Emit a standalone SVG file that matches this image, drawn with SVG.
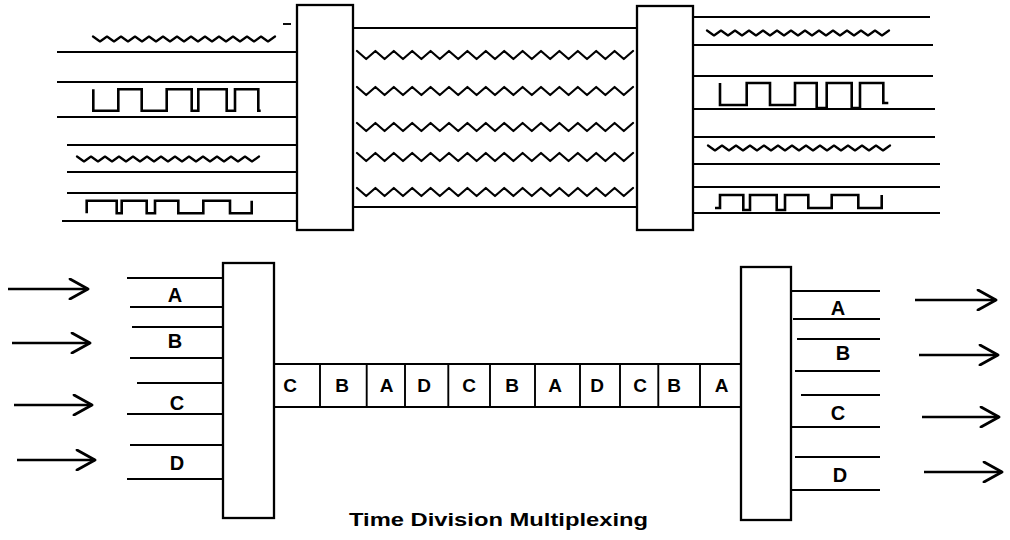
<svg xmlns="http://www.w3.org/2000/svg" width="1010" height="540" viewBox="0 0 1010 540">
<style>
.box{fill:#fff;stroke:#000;stroke-width:2.3}
.ln{stroke:#000;stroke-width:1.9;fill:none}
.wave{stroke:#000;stroke-width:2.2;fill:none;stroke-linejoin:round;stroke-linecap:round}
.sq{stroke:#000;stroke-width:2.6;fill:none;stroke-linejoin:miter}
.arr{stroke:#000;stroke-width:2.6;fill:none;marker-end:url(#chev)}
.lbl{font-family:"Liberation Sans",Arial,sans-serif;font-weight:bold;font-size:20px;text-anchor:middle;fill:#000}
.cell{font-family:"Liberation Sans",Arial,sans-serif;font-weight:bold;font-size:19px;text-anchor:middle;fill:#000}
.cap{font-family:"Liberation Sans",Arial,sans-serif;font-weight:bold;font-size:19px;fill:#000}
</style>
<defs>
<marker id="chev" viewBox="0 0 22 22" refX="20" refY="11" markerWidth="22" markerHeight="22" orient="auto" markerUnits="userSpaceOnUse">
<path d="M2,1 L20,11 L2,21" fill="none" stroke="#000" stroke-width="2.8" stroke-linecap="round" stroke-linejoin="round"/>
</marker>
</defs>
<rect width="1010" height="540" fill="#fff"/>

<!-- FDM top -->
<g id="fdm-inputs">
<line class="ln" x1="283" y1="24" x2="291" y2="24"/>
<line class="ln" x1="57" y1="52" x2="297" y2="52"/>
<line class="ln" x1="57" y1="82" x2="297" y2="82"/>
<line class="ln" x1="57" y1="117" x2="297" y2="117"/>
<line class="ln" x1="67" y1="145" x2="297" y2="145"/>
<line class="ln" x1="67" y1="172" x2="297" y2="172"/>
<line class="ln" x1="67" y1="193" x2="297" y2="193"/>
<line class="ln" x1="62" y1="221" x2="297" y2="221"/>
<path class="wave" d="M93,36.5 l7,5 7,-5 7,5 7,-5 7,5 7,-5 7,5 7,-5 7,5 7,-5 7,5 7,-5 7,5 7,-5 7,5 7,-5 7,5 7,-5 7,5 7,-5 7,5 7,-5 7,5 7,-5 7,5 7,-5"/>
<path class="sq" d="M93.3,89.3 V110.7 H118.3 V89.3 H141.7 V110.7 H166.7 V89.3 H191.7 V110.7 H198.3 V89.3 H226.7 V110.7 H235 V89.3 H258.3 V110.7 H260.7"/>
<path class="wave" d="M77,156.5 l7,5 7,-5 7,5 7,-5 7,5 7,-5 7,5 7,-5 7,5 7,-5 7,5 7,-5 7,5 7,-5 7,5 7,-5 7,5 7,-5 7,5 7,-5 7,5 7,-5 7,5 7,-5 7,5 7,-5"/>
<path class="sq" d="M86.7,213.3 V200.7 H116.7 V213.3 H121.7 V200.7 H146.7 V213.3 H155 V200.7 H178.3 V213.3 H203.3 V200.7 H230 V213.3 H251.7 V200.7"/>
</g>
<g id="fdm-mux">
<rect class="box" x="297" y="5" width="56" height="225"/>
</g>
<g id="fdm-channel">
<line class="ln" x1="353" y1="28" x2="637" y2="28"/>
<line class="ln" x1="353" y1="207" x2="637" y2="207"/>
<path class="wave" d="M357,51 l9.2,8 9.2,-8 9.2,8 9.2,-8 9.2,8 9.2,-8 9.2,8 9.2,-8 9.2,8 9.2,-8 9.2,8 9.2,-8 9.2,8 9.2,-8 9.2,8 9.2,-8 9.2,8 9.2,-8 9.2,8 9.2,-8 9.2,8 9.2,-8 9.2,8 9.2,-8 9.2,8 9.2,-8 9.2,8 9.2,-8 9.2,8 9.2,-8"/>
<path class="wave" d="M357,87 l9.2,8 9.2,-8 9.2,8 9.2,-8 9.2,8 9.2,-8 9.2,8 9.2,-8 9.2,8 9.2,-8 9.2,8 9.2,-8 9.2,8 9.2,-8 9.2,8 9.2,-8 9.2,8 9.2,-8 9.2,8 9.2,-8 9.2,8 9.2,-8 9.2,8 9.2,-8 9.2,8 9.2,-8 9.2,8 9.2,-8 9.2,8 9.2,-8"/>
<path class="wave" d="M357,123 l9.2,8 9.2,-8 9.2,8 9.2,-8 9.2,8 9.2,-8 9.2,8 9.2,-8 9.2,8 9.2,-8 9.2,8 9.2,-8 9.2,8 9.2,-8 9.2,8 9.2,-8 9.2,8 9.2,-8 9.2,8 9.2,-8 9.2,8 9.2,-8 9.2,8 9.2,-8 9.2,8 9.2,-8 9.2,8 9.2,-8 9.2,8 9.2,-8"/>
<path class="wave" d="M357,153 l9.2,8 9.2,-8 9.2,8 9.2,-8 9.2,8 9.2,-8 9.2,8 9.2,-8 9.2,8 9.2,-8 9.2,8 9.2,-8 9.2,8 9.2,-8 9.2,8 9.2,-8 9.2,8 9.2,-8 9.2,8 9.2,-8 9.2,8 9.2,-8 9.2,8 9.2,-8 9.2,8 9.2,-8 9.2,8 9.2,-8 9.2,8 9.2,-8"/>
<path class="wave" d="M357,188 l9.2,8 9.2,-8 9.2,8 9.2,-8 9.2,8 9.2,-8 9.2,8 9.2,-8 9.2,8 9.2,-8 9.2,8 9.2,-8 9.2,8 9.2,-8 9.2,8 9.2,-8 9.2,8 9.2,-8 9.2,8 9.2,-8 9.2,8 9.2,-8 9.2,8 9.2,-8 9.2,8 9.2,-8 9.2,8 9.2,-8 9.2,8 9.2,-8"/>
</g>
<g id="fdm-demux">
<rect class="box" x="637" y="6" width="56" height="224"/>
</g>
<g id="fdm-outputs">
<line class="ln" x1="693" y1="17" x2="930" y2="17"/>
<line class="ln" x1="693" y1="45" x2="933" y2="45"/>
<line class="ln" x1="693" y1="76" x2="933" y2="76"/>
<line class="ln" x1="693" y1="109" x2="935" y2="109"/>
<line class="ln" x1="693" y1="137" x2="935" y2="137"/>
<line class="ln" x1="693" y1="164" x2="940" y2="164"/>
<line class="ln" x1="693" y1="187" x2="940" y2="187"/>
<line class="ln" x1="693" y1="213" x2="940" y2="213"/>
<path class="wave" d="M707,30.5 l7,5 7,-5 7,5 7,-5 7,5 7,-5 7,5 7,-5 7,5 7,-5 7,5 7,-5 7,5 7,-5 7,5 7,-5 7,5 7,-5 7,5 7,-5 7,5 7,-5 7,5 7,-5 7,5 7,-5"/>
<path class="sq" d="M720,83 V105 H746.7 V83 H770 V105 H795 V83 H816.7 V108 H826.7 V83 H851.7 V108 H860 V83 H883.3 V103 H888.3"/>
<path class="wave" d="M708,145.5 l7,5 7,-5 7,5 7,-5 7,5 7,-5 7,5 7,-5 7,5 7,-5 7,5 7,-5 7,5 7,-5 7,5 7,-5 7,5 7,-5 7,5 7,-5 7,5 7,-5 7,5 7,-5 7,5 7,-5"/>
<path class="sq" d="M715,208 H720 V195 H743.3 V210 H750 V195 H776.7 V210 H785 V195 H808.3 V208 H831.7 V195 H858.3 V208 H881.7 V195"/>
</g>

<!-- TDM bottom -->
<g id="tdm-inputs">
<line class="ln" x1="127" y1="278" x2="223" y2="278"/>
<line class="ln" x1="130" y1="307" x2="223" y2="307"/>
<line class="ln" x1="132" y1="327" x2="223" y2="327"/>
<line class="ln" x1="130" y1="358" x2="223" y2="358"/>
<line class="ln" x1="137" y1="383" x2="223" y2="383"/>
<line class="ln" x1="127" y1="414" x2="228" y2="414"/>
<line class="ln" x1="130" y1="445" x2="228" y2="445"/>
<line class="ln" x1="127" y1="479" x2="223" y2="479"/>
<text class="lbl" x="175" y="302">A</text>
<text class="lbl" x="175" y="348">B</text>
<text class="lbl" x="177" y="410">C</text>
<text class="lbl" x="177" y="470">D</text>
</g>
<g id="tdm-mux">
<rect class="box" x="223" y="263" width="51" height="255"/>
</g>
<g id="tdm-channel">
<line class="ln" x1="274" y1="364" x2="741" y2="364"/>
<line class="ln" x1="274" y1="407" x2="741" y2="407"/>
<line class="ln" x1="320" y1="364" x2="320" y2="407"/>
<line class="ln" x1="366.7" y1="364" x2="366.7" y2="407"/>
<line class="ln" x1="405" y1="364" x2="405" y2="407"/>
<line class="ln" x1="448.3" y1="364" x2="448.3" y2="407"/>
<line class="ln" x1="490" y1="364" x2="490" y2="407"/>
<line class="ln" x1="535" y1="364" x2="535" y2="407"/>
<line class="ln" x1="580" y1="364" x2="580" y2="407"/>
<line class="ln" x1="620" y1="364" x2="620" y2="407"/>
<line class="ln" x1="658.3" y1="364" x2="658.3" y2="407"/>
<line class="ln" x1="700" y1="364" x2="700" y2="407"/>
<text class="cell" x="290" y="392">C</text>
<text class="cell" x="342" y="392">B</text>
<text class="cell" x="386.7" y="392">A</text>
<text class="cell" x="424" y="392">D</text>
<text class="cell" x="469" y="392">C</text>
<text class="cell" x="512" y="392">B</text>
<text class="cell" x="555" y="392">A</text>
<text class="cell" x="597" y="392">D</text>
<text class="cell" x="640" y="392">C</text>
<text class="cell" x="674" y="392">B</text>
<text class="cell" x="721.7" y="392">A</text>
</g>
<g id="tdm-demux">
<rect class="box" x="741" y="267" width="50" height="253"/>
</g>
<g id="tdm-outputs">
<line class="ln" x1="791" y1="291" x2="880" y2="291"/>
<line class="ln" x1="793" y1="319" x2="880" y2="319"/>
<line class="ln" x1="797" y1="339" x2="880" y2="339"/>
<line class="ln" x1="795" y1="371" x2="880" y2="371"/>
<line class="ln" x1="801" y1="395" x2="880" y2="395"/>
<line class="ln" x1="791" y1="427" x2="880" y2="427"/>
<line class="ln" x1="795" y1="457" x2="880" y2="457"/>
<line class="ln" x1="791" y1="490" x2="880" y2="490"/>
<text class="lbl" x="838" y="315">A</text>
<text class="lbl" x="843" y="360">B</text>
<text class="lbl" x="838" y="420">C</text>
<text class="lbl" x="840" y="482">D</text>
</g>
<g id="connectors">
<line class="arr" x1="8" y1="289" x2="88" y2="289"/>
<line class="arr" x1="12" y1="343" x2="90" y2="343"/>
<line class="arr" x1="14" y1="405" x2="92" y2="405"/>
<line class="arr" x1="17" y1="460" x2="95" y2="460"/>
<line class="arr" x1="915" y1="300" x2="996" y2="300"/>
<line class="arr" x1="919" y1="355" x2="998" y2="355"/>
<line class="arr" x1="922" y1="417" x2="999" y2="417"/>
<line class="arr" x1="924" y1="472" x2="1002" y2="472"/>
</g>
<g id="caption">
<text class="cap" x="349" y="526" textLength="299" lengthAdjust="spacingAndGlyphs">Time Division Multiplexing</text>
</g>
</svg>
